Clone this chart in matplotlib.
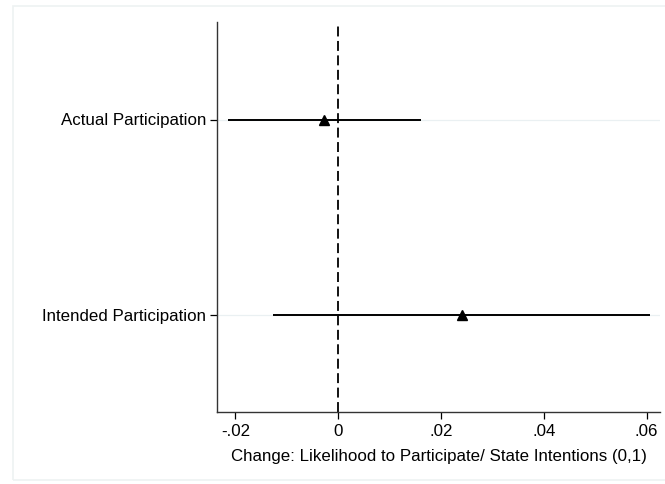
import matplotlib
matplotlib.use("Agg")
import matplotlib.pyplot as plt
from matplotlib.patches import Rectangle

categories = ["Actual Participation", "Intended Participation"]
estimates = [-0.0027, 0.0241]
ci_low = [-0.0214, -0.0127]
ci_high = [0.0161, 0.0607]
xticks = [-0.02, 0, 0.02, 0.04, 0.06]
xticklabels = ["-.02", "0", ".02", ".04", ".06"]
xlabel = "Change: Likelihood to Participate/ State Intentions (0,1)"

plt.rcParams['font.family'] = ['Liberation Sans', 'DejaVu Sans']

fig = plt.figure(figsize=(6.65, 4.84), dpi=100)
fig.patches.append(Rectangle((13/665, 1 - 480/484), 1.0, 478/484 - 4/484,
                             transform=fig.transFigure, fill=False,
                             edgecolor='#eef2f2', linewidth=1.2, zorder=0))
ax = fig.add_axes([217/665, 1 - 412/484, (660 - 217)/665, (412 - 22)/484])

ypos = list(range(1, len(categories) + 1))
for y in ypos:
    ax.axhline(y, color='#eaf0f2', linewidth=0.9, zorder=0)
ax.axvline(0, color='black', linestyle=(0, (5.5, 2.5)), linewidth=1.3, zorder=1)
ax.hlines(ypos, ci_low, ci_high, color='black', linewidth=1.4, zorder=2)
ax.plot(estimates, ypos, linestyle='none', marker='^', color='black',
        markersize=6.5, zorder=3)

fs = 12.2
ax.set_xlim(-0.02357, 0.0626)
ax.set_ylim(2.5, 0.5)
ax.set_yticks(ypos)
ax.set_yticklabels(categories, fontsize=fs)
ax.set_xticks(xticks)
ax.set_xticklabels(xticklabels, fontsize=fs)
ax.set_xlabel(xlabel, fontsize=fs, labelpad=7)
ax.tick_params(axis='both', direction='out', length=5, width=0.9, colors='black')
ax.tick_params(axis='x', pad=4)
ax.tick_params(axis='y', pad=3)
for s in ['top', 'right']:
    ax.spines[s].set_visible(False)
for s in ['left', 'bottom']:
    ax.spines[s].set_linewidth(1.0)
    ax.spines[s].set_color('#333333')

fig.savefig("out.png", dpi=100, facecolor='white')
